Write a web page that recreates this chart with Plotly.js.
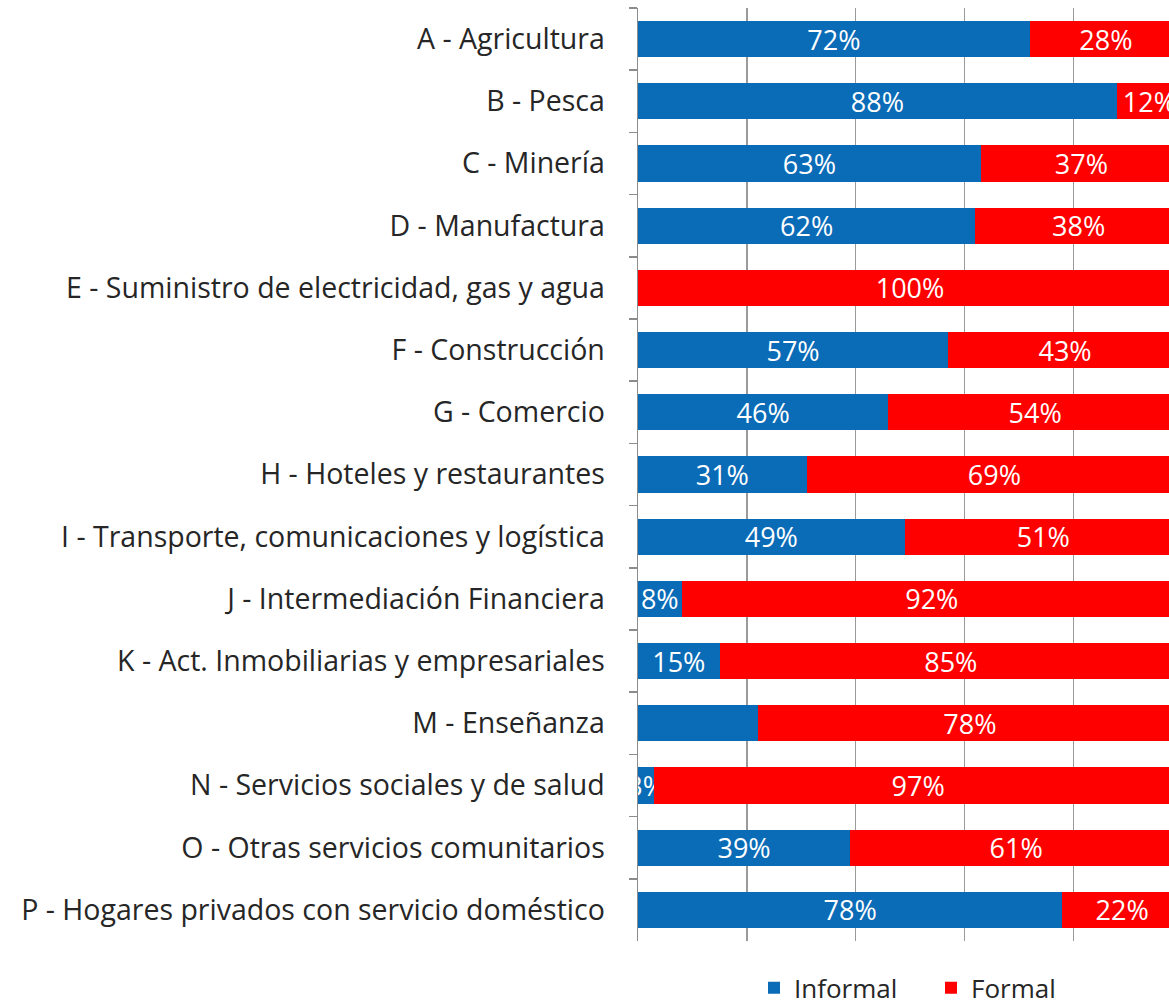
<!DOCTYPE html>
<html>
<head>
<meta charset="utf-8">
<script src="https://cdn.plot.ly/plotly-3.0.1.min.js"></script>
<style>html,body{margin:0;padding:0;background:#fff;}</style>
</head>
<body>
<div id="chart" style="width:1169px;height:1007px;"></div>
<script>
const categories = [
  "A - Agricultura",
  "B - Pesca",
  "C - Minería",
  "D - Manufactura",
  "E - Suministro de electricidad, gas y agua",
  "F - Construcción",
  "G - Comercio",
  "H - Hoteles y restaurantes",
  "I - Transporte, comunicaciones y logística",
  "J - Intermediación Financiera",
  "K - Act. Inmobiliarias y empresariales",
  "M - Enseñanza",
  "N - Servicios sociales y de salud",
  "O - Otras servicios comunitarios",
  "P - Hogares privados con servicio doméstico"
];
const informal = [72, 88, 63, 62, 0, 57, 46, 31, 49, 8, 15, 22, 3, 39, 78];
const formal   = [28, 12, 37, 38, 100, 43, 54, 69, 51, 92, 85, 78, 97, 61, 22];
const informalLabels = ["72%","88%","63%","62%","","57%","46%","31%","49%","8%","15%","","3%","39%","78%"];
const formalLabels   = ["28%","12%","37%","38%","100%","43%","54%","69%","51%","92%","85%","78%","97%","61%","22%"];

const FONT = "Open Sans, sans-serif";
const LABEL_FS = 28.5;
const BAR_FS = 27;
const LEG_FS = 26;

const traces = [
  {
    type: "bar", orientation: "h", name: "Informal",
    y: categories, x: informal, text: informalLabels,
    textposition: "inside", insidetextanchor: "middle", constraintext: "none", textangle: 0,
    textfont: {color: "#ffffff", size: BAR_FS, family: FONT},
    marker: {color: "#0A6BB7", line: {width: 0}},
    hoverinfo: "skip"
  },
  {
    type: "bar", orientation: "h", name: "Formal",
    y: categories, x: formal, text: formalLabels,
    textposition: "inside", insidetextanchor: "middle", constraintext: "none", textangle: 0,
    textfont: {color: "#ffffff", size: BAR_FS, family: FONT},
    marker: {color: "#FF0000", line: {width: 0}},
    hoverinfo: "skip"
  }
];

const layout = {
  width: 1169, height: 1007,
  margin: {l: 638, r: 0, t: 8, b: 66, autoexpand: false},
  paper_bgcolor: "#ffffff", plot_bgcolor: "#ffffff",
  barmode: "stack", bargap: 0.42,
  font: {family: FONT, size: LABEL_FS, color: "#262626"},
  xaxis: {
    range: [0, 97.6], dtick: 20, tick0: 0,
    showgrid: true, gridcolor: "#9a9a9a", gridwidth: 1.5,
    showticklabels: false, ticks: "", zeroline: false, showline: false, fixedrange: true
  },
  yaxis: {
    autorange: "reversed", type: "category",
    showline: true, linecolor: "#8c8c8c", linewidth: 1.5,
    ticks: "outside", tickson: "boundaries", ticklen: 8, tickcolor: "#8c8c8c", tickwidth: 1.5,
    ticklabelstandoff: 26,
    showgrid: false, zeroline: false,
    tickfont: {family: FONT, size: LABEL_FS, color: "#262626"}
  },
  legend: {
    orientation: "h", traceorder: "normal",
    xref: "container", yref: "container",
    x: 0.645, xanchor: "left", y: 0.019, yanchor: "middle",
    font: {family: FONT, size: LEG_FS, color: "#262626"},
    itemwidth: 30, entrywidth: 132, entrywidthmode: "pixels"
  },
  showlegend: true
};

Plotly.newPlot("chart", traces, layout, {staticPlot: true});
</script>
</body>
</html>
